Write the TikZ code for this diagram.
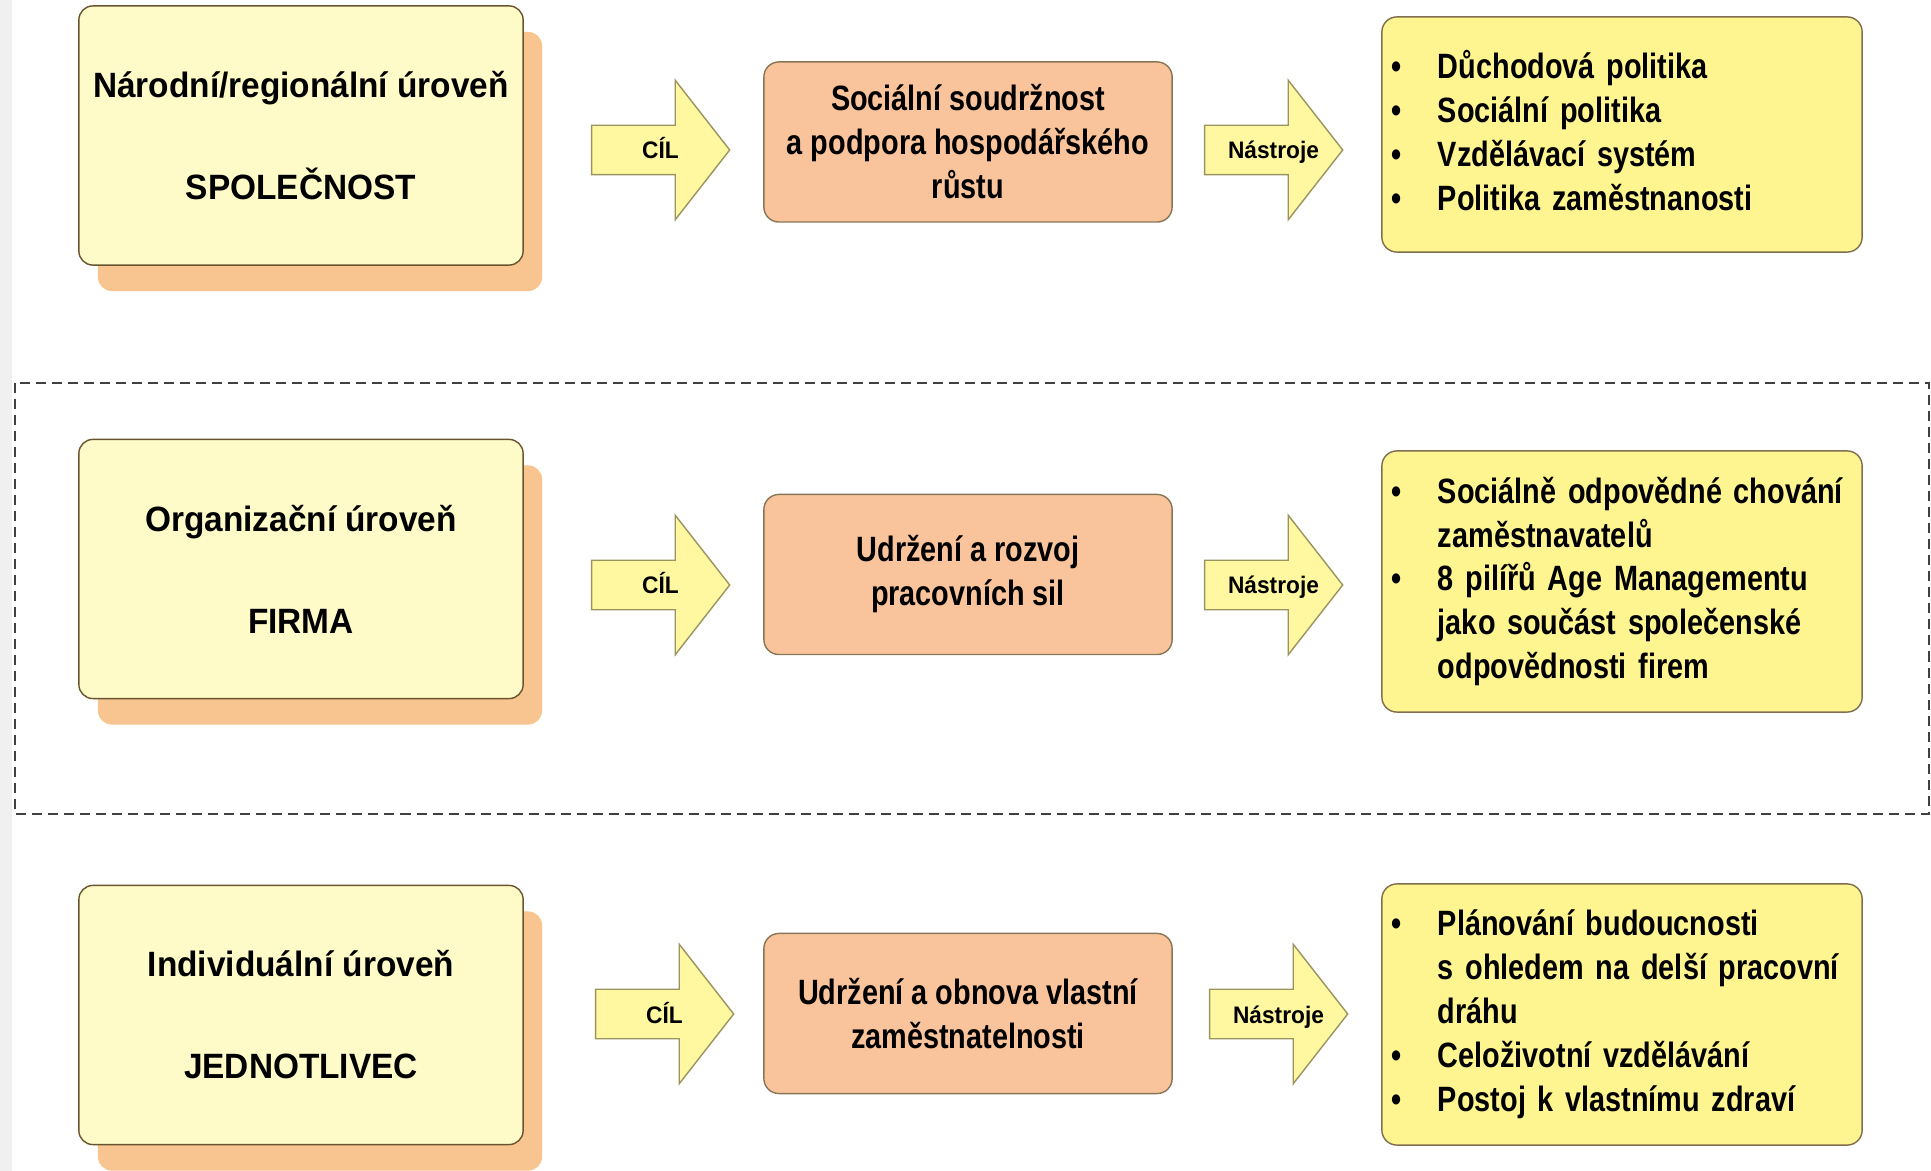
\documentclass[tikz,border=0pt]{standalone}
\usepackage{fontspec}
\setmainfont{Liberation Sans}[FakeStretch=0.95]
\newfontfamily\narrowsans{Liberation Sans}[FakeStretch=0.82]
\usetikzlibrary{shapes.arrows,shadows}
\definecolor{levelyellow}{HTML}{FFFBC8}
\definecolor{levelshadow}{HTML}{F8C490}
\definecolor{aimorange}{HTML}{F9C49C}
\definecolor{toolyellow}{HTML}{FFF590}
\definecolor{arrowyellow}{HTML}{FFF8A0}
\definecolor{edgebrown}{HTML}{6A5430}
\definecolor{edgeolive}{HTML}{9A9460}
\newcommand{\bitem}{\makebox[0.46cm][l]{\textbullet}}
\newcommand{\bcont}{\hspace*{0.46cm}}
\tikzset{
  levelbox/.style={draw=edgebrown, fill=levelyellow, rounded corners=0.14cm, minimum width=4.44cm, minimum height=2.59cm, align=center, font=\bfseries,
    drop shadow={shadow xshift=0.19cm, shadow yshift=-0.26cm, fill=levelshadow, opacity=1}},
  aimbox/.style={draw=edgebrown!80, fill=aimorange, rounded corners=0.15cm, minimum width=4.08cm, minimum height=1.6cm, align=center, font=\narrowsans\bfseries\fontsize{10}{12.5}\selectfont},
  toolbox/.style={draw=edgebrown!85, fill=toolyellow, rounded corners=0.15cm, minimum width=4.8cm, inner xsep=0.1cm, text width=4.6cm, align=left, font=\narrowsans\bfseries\fontsize{10}{12.5}\selectfont},
  goalarrow/.style={single arrow, draw=edgeolive, fill=arrowyellow, inner ysep=0pt, inner xsep=1pt, text height=0.33cm, text depth=0.15cm,
    single arrow head extend=0.45cm, single arrow tip angle=104, minimum height=1.38cm, font=\bfseries\fontsize{6.8}{8}\selectfont,
    execute at begin node={\hspace*{0.19cm}}}
}

\begin{document}
\begin{tikzpicture}[x=0.01cm, y=-0.01cm]
    \useasboundingbox (0,0) rectangle (1931,1171);
    \fill[white] (0,0) rectangle (1931,1171);
    \fill[gray!12] (0,0) rectangle (12,1171);

    % Firm level frame
    \draw[black!75, line width=0.6pt, dash pattern=on 0.1cm off 0.06cm] (15,383) rectangle (1929,814);

    % Levels
    \node[levelbox] (lvl1) at (301,135.5) {Národní/regionální úroveň\\[17pt]SPOLEČNOST};
    \node[levelbox] (lvl2) at (301,569) {Organizační úroveň\\[17pt]FIRMA};
    \node[levelbox] (lvl3) at (301,1015) {Individuální úroveň\\[17pt]JEDNOTLIVEC};

    % Goals
    \node[goalarrow] (cil1) at (651,150) {CÍL};
    \node[goalarrow] (cil2) at (651,585) {CÍL};
    \node[goalarrow] (cil3) at (655,1014) {CÍL};

    \node[aimbox] (aim1) at (968,142) {Sociální soudržnost\\a podpora hospodářského\\růstu};
    \node[aimbox] (aim2) at (968,574.5) {Udržení a rozvoj\\pracovních sil};
    \node[aimbox] (aim3) at (968,1013.5) {Udržení a obnova vlastní\\zaměstnatelnosti};

    % Tools
    \node[goalarrow] (nastr1) at (1264,150) {Nástroje};
    \node[goalarrow] (nastr2) at (1264,585) {Nástroje};
    \node[goalarrow] (nastr3) at (1269,1014) {Nástroje};

    \node[toolbox, minimum height=2.35cm] (tools1) at (1622,134.5) {%
        \bitem Důchodová politika\\
        \bitem Sociální politika\\
        \bitem Vzdělávací systém\\
        \bitem Politika zaměstnanosti\vspace{2pt}};
    \node[toolbox, minimum height=2.61cm] (tools2) at (1622,581.5) {%
        \bitem Sociálně odpovědné chování\\
        \bcont zaměstnavatelů\\
        \bitem 8 pilířů Age Managementu\\
        \bcont jako součást společenské\\
        \bcont odpovědnosti firem};
    \node[toolbox, minimum height=2.61cm] (tools3) at (1622,1014.5) {%
        \bitem Plánování budoucnosti\\
        \bcont s ohledem na delší pracovní\\
        \bcont dráhu\\
        \bitem Celoživotní vzdělávání\\
        \bitem Postoj k vlastnímu zdraví};

\end{tikzpicture}
\end{document}
